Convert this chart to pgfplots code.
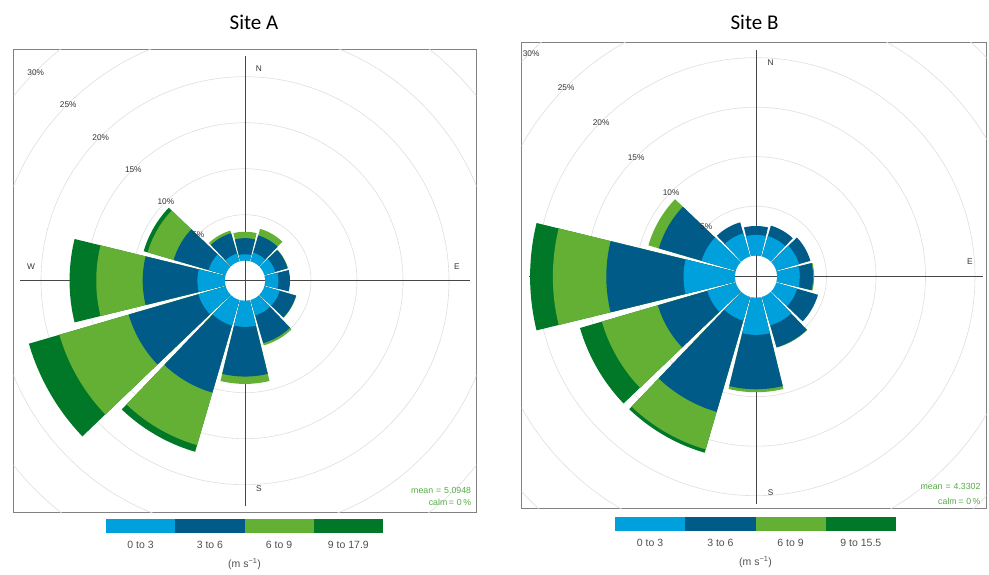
\documentclass[border=0pt]{standalone}
\usepackage{pgfplots}
\pgfplotsset{compat=1.18}
\usepackage{pgfplotstable}
\usepackage{fontspec}
\setmainfont{Liberation Sans}
\newfontfamily\titlefont{Carlito}

\definecolor{lb}{RGB}{0,160,221}
\definecolor{db}{RGB}{0,91,137}
\definecolor{lg}{RGB}{99,176,52}
\definecolor{dg}{RGB}{0,120,40}
\definecolor{ringc}{RGB}{222,222,222}
\definecolor{crossc}{RGB}{70,70,70}
\definecolor{framec}{RGB}{130,130,130}
\definecolor{meanc}{RGB}{85,170,70}
\definecolor{legtext}{RGB}{80,80,80}

% frequency (%) of each wind speed band, by direction
\pgfplotstableread{
dir b1 b2 b3 b4
0 0.70 1.75 0.70 0
30 1.00 1.95 0.75 0
60 1.25 1.40 0.05 0
90 1.45 1.27 0 0
120 1.75 1.85 0.05 0
150 1.75 3.15 0.25 0
180 2.85 5.40 0.80 0
210 2.90 7.60 5.95 0.75
240 3.10 7.90 7.85 3.45
270 3.00 5.95 5.05 2.90
300 1.95 3.95 2.95 0.45
330 0.90 2.30 0.30 0
}\siteA

\pgfplotstableread{
dir b1 b2 b3 b4
0 2.10 0.90 0 0
30 2.15 1.10 0 0
60 2.40 1.20 0 0
90 2.30 1.35 0.10 0
120 2.20 2.20 0 0
150 3.00 2.30 0.05 0
180 3.75 5.50 0.30 0
210 2.50 9.60 3.95 0.35
240 3.00 5.20 5.90 2.30
270 5.20 7.80 5.40 2.30
300 3.60 4.50 1.10 0
330 2.45 1.15 0 0
}\siteB

\newcommand\wedgeplot[3]{%
  \ifdim #3pt>0.001pt\relax
    \edef\doit{\noexpand\addplot[fill=#1,draw=none,domain=\ta:\tb,samples=24] ({#2*sin(x)},{#2*cos(x)}) -- (axis cs:0,0) -- cycle;}%
    \doit
  \fi}

\newcommand\rose[2]{%
  \pgfplotsforeachungrouped \i in {0,...,11}{%
    \pgfplotstablegetelem{\i}{dir}\of{#1}\edef\dd{\pgfplotsretval}%
    \pgfplotstablegetelem{\i}{b1}\of{#1}\edef\va{\pgfplotsretval}%
    \pgfplotstablegetelem{\i}{b2}\of{#1}\edef\vb{\pgfplotsretval}%
    \pgfplotstablegetelem{\i}{b3}\of{#1}\edef\vc{\pgfplotsretval}%
    \pgfplotstablegetelem{\i}{b4}\of{#1}\edef\vd{\pgfplotsretval}%
    \pgfmathsetmacro\ra{#2+\va}%
    \pgfmathsetmacro\rb{\ra+\vb}%
    \pgfmathsetmacro\rc{\rb+\vc}%
    \pgfmathsetmacro\rd{\rc+\vd}%
    \pgfmathsetmacro\ta{\dd-13.75}%
    \pgfmathsetmacro\tb{\dd+13.75}%
    \wedgeplot{dg}{\rd}{\vd}%
    \wedgeplot{lg}{\rc}{\vc}%
    \wedgeplot{db}{\rb}{\vb}%
    \wedgeplot{lb}{\ra}{\va}%
  }}

\pgfplotsset{
  rosebase/.style={
    anchor=origin, enlargelimits=false,
    xtick=\empty, ytick=\empty,
    axis line style={framec, line width=0.7pt},
    clip=true,
  },
}
\tikzset{
  lab/.style={font=\fontsize{8.3}{9}\selectfont, text=black!80, inner sep=0pt},
  meanlab/.style={font=\fontsize{8.8}{10}\selectfont, text=meanc, inner sep=0pt, anchor=east},
  leg/.style={font=\fontsize{10.5}{12}\selectfont, text=legtext, inner sep=0pt, anchor=base},
}

\begin{document}
\begin{tikzpicture}
\useasboundingbox (0pt,0pt) rectangle (989pt,574pt);

% ---------------- Site A ----------------
\node[font=\titlefont\fontsize{21}{24}\selectfont, anchor=base] at (254pt,544pt) {Site A};
\begin{axis}[rosebase, at={(245pt,293.3pt)},
  x=9.2pt, y=9.2pt,
  xmin=-25.16, xmax=25.16, ymin=-25.16, ymax=25.16]
  \pgfplotsinvokeforeach{5,10,...,35}{\draw[ringc, line width=0.6pt] (axis cs:0,0) circle[radius={(20+9.2*#1)*1pt}];}
  \draw[crossc, line width=0.8pt] (axis cs:-24.46,0) -- (axis cs:24.46,0);
  \draw[crossc, line width=0.8pt] (axis cs:0,-24.46) -- (axis cs:0,24.46);
  \node[lab] at (axis cs:1.52,23.04) {N};
  \node[lab] at (axis cs:23.04,1.52) {E};
  \node[lab] at (axis cs:1.52,-22.6) {S};
  \node[lab] at (axis cs:-23.26,1.52) {W};
  \rose{\siteA}{2.17}
  \fill[white] (axis cs:0,0) circle[radius=20pt];
  \draw[crossc, line width=0.8pt] (axis cs:-2.2,0) -- (axis cs:2.2,0);
  \draw[crossc, line width=0.8pt] (axis cs:0,-2.2) -- (axis cs:0,2.2);
  \pgfplotsinvokeforeach{5,10,...,30}{\node[lab] at (axis cs:{-(2.17+#1)*0.707},{(2.17+#1)*0.703}) {#1\%};}
  \node[meanlab] at (axis cs:24.6,-22.8) {mean\,\,=\,\,5.0948};
  \node[meanlab] at (axis cs:24.6,-24.1) {calm\,=\,\,0\,\%};
\end{axis}

\fill[lb] (106pt,40.7pt) rectangle (175.25pt,54.7pt);
\fill[db] (175.25pt,40.7pt) rectangle (244.5pt,54.7pt);
\fill[lg] (244.5pt,40.7pt) rectangle (313.75pt,54.7pt);
\fill[dg] (313.75pt,40.7pt) rectangle (383pt,54.7pt);
\node[leg] at (140.6pt,25.7pt) {0 to 3};
\node[leg] at (209.9pt,25.7pt) {3 to 6};
\node[leg] at (279.1pt,25.7pt) {6 to 9};
\node[leg] at (348.4pt,25.7pt) {9 to 17.9};
\node[leg] at (244.5pt,6.5pt) {(m s\textsuperscript{−1})};

% ---------------- Site B ----------------
\node[font=\titlefont\fontsize{21}{24}\selectfont, anchor=base] at (754.5pt,544pt) {Site B};
\begin{axis}[rosebase, at={(756pt,297.3pt)},
  x=9.9pt, y=9.9pt,
  xmin=-23.67, xmax=23.3, ymin=-23.4, ymax=23.64]
  \pgfplotsinvokeforeach{5,10,...,35}{\draw[ringc, line width=0.6pt] (axis cs:0,0) circle[radius={(21+9.9*#1)*1pt}];}
  \draw[crossc, line width=0.8pt] (axis cs:-22.93,0) -- (axis cs:22.93,0);
  \draw[crossc, line width=0.8pt] (axis cs:0,-22.93) -- (axis cs:0,22.93);
  \node[lab] at (axis cs:1.48,21.6) {N};
  \node[lab] at (axis cs:21.6,1.5) {E};
  \node[lab] at (axis cs:1.48,-21.8) {S};
  \node[lab] at (axis cs:-21.6,1.5) {W};
  \rose{\siteB}{2.12}
  \fill[white] (axis cs:0,0) circle[radius=21pt];
  \draw[crossc, line width=0.8pt] (axis cs:-2.15,0) -- (axis cs:2.15,0);
  \draw[crossc, line width=0.8pt] (axis cs:0,-2.15) -- (axis cs:0,2.15);
  \pgfplotsinvokeforeach{5,10,...,30}{\node[lab] at (axis cs:{-(2.12+#1)*0.707},{(2.12+#1)*0.703}) {#1\%};}
  \node[meanlab] at (axis cs:22.7,-21.2) {mean\,\,=\,\,4.3302};
  \node[meanlab] at (axis cs:22.7,-22.7) {calm\,=\,\,0\,\%};
\end{axis}

\fill[lb] (615pt,43pt) rectangle (685.25pt,57.3pt);
\fill[db] (685.25pt,43pt) rectangle (755.5pt,57.3pt);
\fill[lg] (755.5pt,43pt) rectangle (825.75pt,57.3pt);
\fill[dg] (825.75pt,43pt) rectangle (896pt,57.3pt);
\node[leg] at (650.1pt,27.3pt) {0 to 3};
\node[leg] at (720.4pt,27.3pt) {3 to 6};
\node[leg] at (790.6pt,27.3pt) {6 to 9};
\node[leg] at (860.9pt,27.3pt) {9 to 15.5};
\node[leg] at (755.5pt,9pt) {(m s\textsuperscript{−1})};
\end{tikzpicture}
\end{document}
